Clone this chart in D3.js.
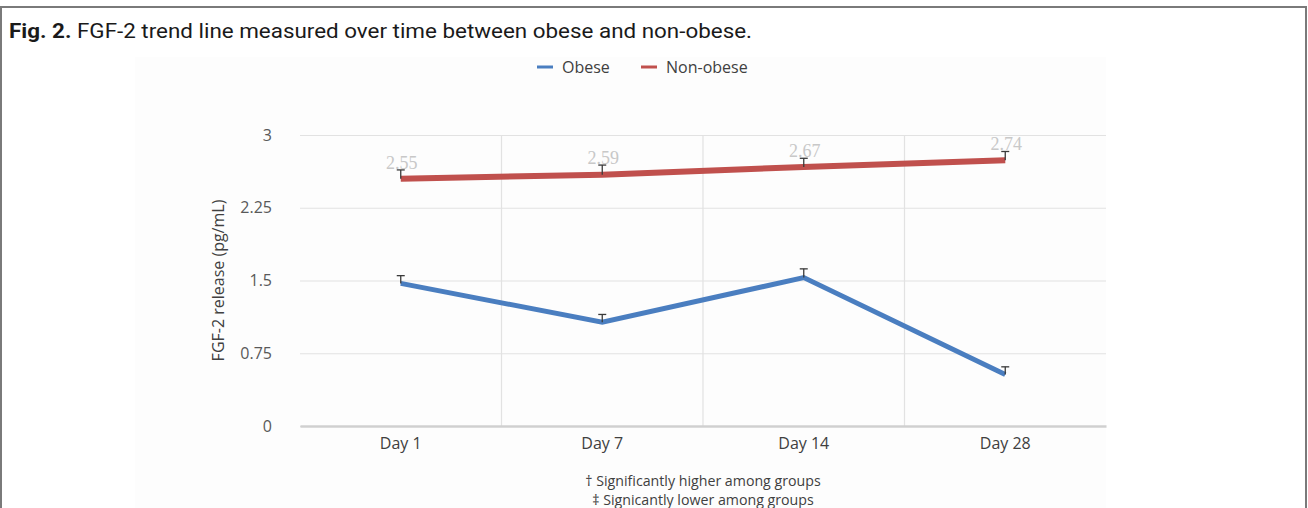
<!DOCTYPE html>
<html>
<head>
<meta charset="utf-8">
<script src="https://cdn.jsdelivr.net/npm/d3@7/dist/d3.min.js"></script>
<style>
  html, body { margin: 0; padding: 0; background: #ffffff; }
  svg { display: block; }
</style>
</head>
<body>
<svg id="chart" width="1308" height="508"></svg>
<script>
// FGF-2 release by day, obese vs non-obese groups
const categories = ["Day 1", "Day 7", "Day 14", "Day 28"];
const obese = [1.47, 1.07, 1.53, 0.53];
const obeseErr = [0.08, 0.08, 0.09, 0.08];
const nonObese = [2.55, 2.59, 2.67, 2.74];
const nonObeseErr = [0.09, 0.10, 0.09, 0.09];
const yTicks = [0, 0.75, 1.5, 2.25, 3];
const yTickLabels = ["0", "0.75", "1.5", "2.25", "3"];

const seriesList = [
  { name: "Obese", values: obese, err: obeseErr, color: "#4a7ec0", width: 5, labels: false },
  { name: "Non-obese", values: nonObese, err: nonObeseErr, color: "#c0504d", width: 6, labels: true }
];

const svg = d3.select("#chart");
const sans = "'Open Sans', 'Noto Sans', sans-serif";

// outer frame
svg.append("path")
  .attr("d", "M1,508 L1,7 L1306,7 L1306,508")
  .attr("fill", "none").attr("stroke", "#7a7a7a").attr("stroke-width", 2);

// chart area background
svg.append("rect")
  .attr("x", 135).attr("y", 57).attr("width", 971).attr("height", 451)
  .attr("fill", "#fdfdfd");

// caption
const title = svg.append("text")
  .attr("x", 9).attr("y", 38)
  .attr("font-family", "'Roboto', 'Liberation Sans', sans-serif")
  .attr("font-size", 20).attr("fill", "#1a1a1a")
  .attr("textLength", 743).attr("lengthAdjust", "spacingAndGlyphs");
title.append("tspan").attr("font-weight", "bold").text("Fig. 2.");
title.append("tspan").text(" FGF-2 trend line measured over time between obese and non-obese.");

const x = d3.scaleBand().domain(categories).range([300, 1106]);
const y = d3.scaleLinear().domain([0, 3]).range([426, 135]);
const cx = d => x(d) + x.bandwidth() / 2;

// horizontal gridlines + y tick labels
const yAxis = svg.append("g")
  .attr("transform", "translate(300,0)")
  .call(d3.axisLeft(y).tickValues(yTicks).tickSize(-806)
    .tickFormat((d, i) => yTickLabels[i]).tickPadding(28));
yAxis.select(".domain").remove();
yAxis.selectAll(".tick line").attr("stroke", "#e2e2e2").attr("stroke-width", 1.2);
yAxis.selectAll(".tick text")
  .attr("font-family", sans).attr("font-size", 16).attr("fill", "#595959");

// vertical gridlines at category boundaries
svg.append("g").selectAll("line")
  .data(categories.slice(1))
  .join("line")
  .attr("x1", d => x(d)).attr("x2", d => x(d))
  .attr("y1", y(3)).attr("y2", y(0))
  .attr("stroke", "#e2e2e2").attr("stroke-width", 1.2);

// baseline + x tick labels
const xAxis = svg.append("g")
  .attr("transform", `translate(0,${y(0)})`)
  .call(d3.axisBottom(x).tickSize(0).tickPadding(12));
xAxis.select(".domain").attr("stroke", "#d0d0d0").attr("stroke-width", 2.5);
xAxis.selectAll(".tick text")
  .attr("font-family", sans).attr("font-size", 16).attr("fill", "#404040");

// y axis title
svg.append("text")
  .attr("transform", `translate(224,${(y(0) + y(3)) / 2}) rotate(-90)`)
  .attr("text-anchor", "middle")
  .attr("font-family", sans).attr("font-size", 16).attr("fill", "#404040")
  .text("FGF-2 release (pg/mL)");

const line = d3.line().x((d, i) => cx(categories[i])).y(d => y(d));

seriesList.forEach(s => {
  svg.append("path")
    .datum(s.values)
    .attr("d", line)
    .attr("fill", "none")
    .attr("stroke", s.color)
    .attr("stroke-width", s.width)
    .attr("stroke-linejoin", "miter");
});

// upper error bars
seriesList.forEach(s => {
  const g = svg.append("g").attr("stroke", "#3a3a3a").attr("stroke-width", 1.3);
  s.values.forEach((v, i) => {
    const px = cx(categories[i]);
    g.append("line").attr("x1", px).attr("x2", px)
      .attr("y1", y(v)).attr("y2", y(v + s.err[i]));
    g.append("line").attr("x1", px - 4).attr("x2", px + 4)
      .attr("y1", y(v + s.err[i])).attr("y2", y(v + s.err[i]));
  });
});

// data labels for the non-obese series
seriesList.filter(s => s.labels).forEach(s => {
  svg.append("g").selectAll("text")
    .data(s.values)
    .join("text")
    .attr("x", (d, i) => cx(categories[i]) + 1)
    .attr("y", (d, i) => y(d + s.err[i]) - 1)
    .attr("text-anchor", "middle")
    .attr("font-family", "'Liberation Serif', 'DejaVu Serif', serif")
    .attr("font-size", 18)
    .attr("fill", "#c8c8c8")
    .text(d => d3.format(".2f")(d));
});

// legend
const legend = svg.append("g").attr("font-family", sans).attr("font-size", 16).attr("fill", "#404040");
const legendItems = [
  { s: seriesList[0], x: 537 },
  { s: seriesList[1], x: 641 }
];
legendItems.forEach(it => {
  legend.append("line")
    .attr("x1", it.x).attr("x2", it.x + 16)
    .attr("y1", 67).attr("y2", 67)
    .attr("stroke", it.s.color).attr("stroke-width", 3);
  legend.append("text")
    .attr("x", it.x + 25).attr("y", 72.5)
    .text(it.s.name);
});

// footnotes
const notes = ["\u2020 Significantly higher among groups", "\u2021 Signicantly lower among groups"];
svg.append("g").selectAll("text")
  .data(notes)
  .join("text")
  .attr("x", 703)
  .attr("y", (d, i) => 486 + i * 19)
  .attr("text-anchor", "middle")
  .attr("font-family", sans).attr("font-size", 14.2).attr("fill", "#404040")
  .text(d => d);
</script>
</body>
</html>
